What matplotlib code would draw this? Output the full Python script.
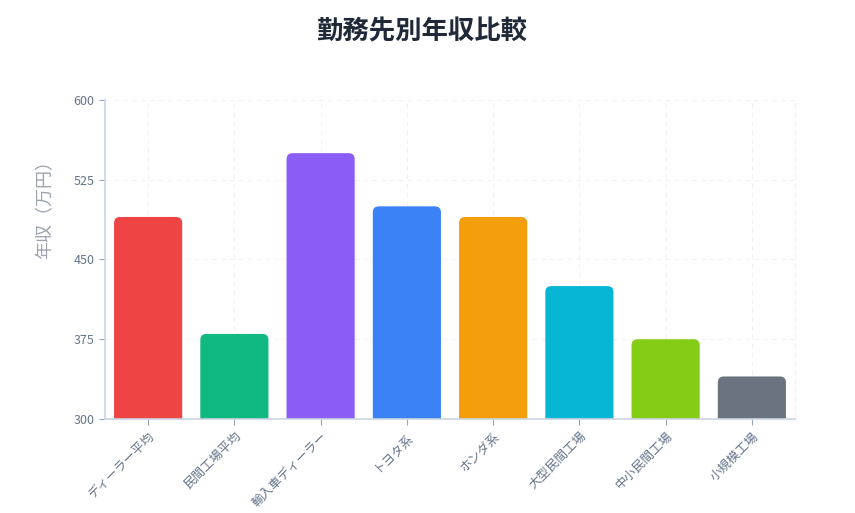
import matplotlib.pyplot as plt
from matplotlib.patches import FancyBboxPatch

plt.rcParams['font.family'] = ['Noto Sans CJK JP', 'DejaVu Sans']

categories = ['ディーラー平均', '民間工場平均', '輸入車ディーラー', 'トヨタ系', 'ホンダ系',
              '大型民間工場', '中小民間工場', '小規模工場']
salaries = [490, 380, 550, 500, 490, 425, 375, 340]
colors = ['#ef4444', '#10b981', '#8b5cf6', '#3b82f6', '#f59e0b',
          '#06b6d4', '#84cc16', '#6b7280']
yticks = [300, 375, 450, 525, 600]

fig = plt.figure(figsize=(8.55, 5.13), dpi=100)
ax = fig.add_axes([105 / 855, 1 - 419 / 513, 690 / 855, 319 / 513])

bars = ax.bar(range(len(categories)), salaries, width=0.79, color=colors)
# swap the plain bars for ones with rounded tops
for b, c in zip(bars, colors):
    x, w, h = b.get_x(), b.get_width(), b.get_height()
    b.remove()
    ax.add_patch(FancyBboxPatch((x, 280), w, h - 280,
                                boxstyle='round,pad=0,rounding_size=0.07',
                                mutation_aspect=81, fc=c, ec='none', zorder=2))

ax.set_xlim(-0.5, len(categories) - 0.5)
ax.set_ylim(300, 600)
ax.set_yticks(yticks)
ax.set_xticks(range(len(categories)))
ax.set_xticklabels(categories, rotation=45, ha='right', rotation_mode='anchor')

ax.grid(True, color='#f1f1f1', linestyle=(0, (4, 4)), linewidth=0.8, zorder=0)
ax.set_axisbelow(True)
ax.spines['top'].set_visible(False)
ax.spines['right'].set_color('#f1f1f1')
ax.spines['right'].set_linestyle((0, (4, 4)))
ax.spines['left'].set_color('#cbd5e1')
ax.spines['bottom'].set_color('#cbd5e1')
ax.spines['left'].set_linewidth(1.2)
ax.spines['bottom'].set_linewidth(1.2)
ax.tick_params(axis='both', colors='#94a3b8', labelcolor='#64748b', labelsize=9, length=4)

ax.set_ylabel('年収（万円）', fontsize=13, color='#9ca3af')
ax.yaxis.set_label_coords(-0.074, 0.67)
fig.suptitle('勤務先別年収比較', fontsize=19, fontweight='bold', color='#1f2937',
             x=0.493, y=0.965)

fig.savefig('out.png', dpi=100)
